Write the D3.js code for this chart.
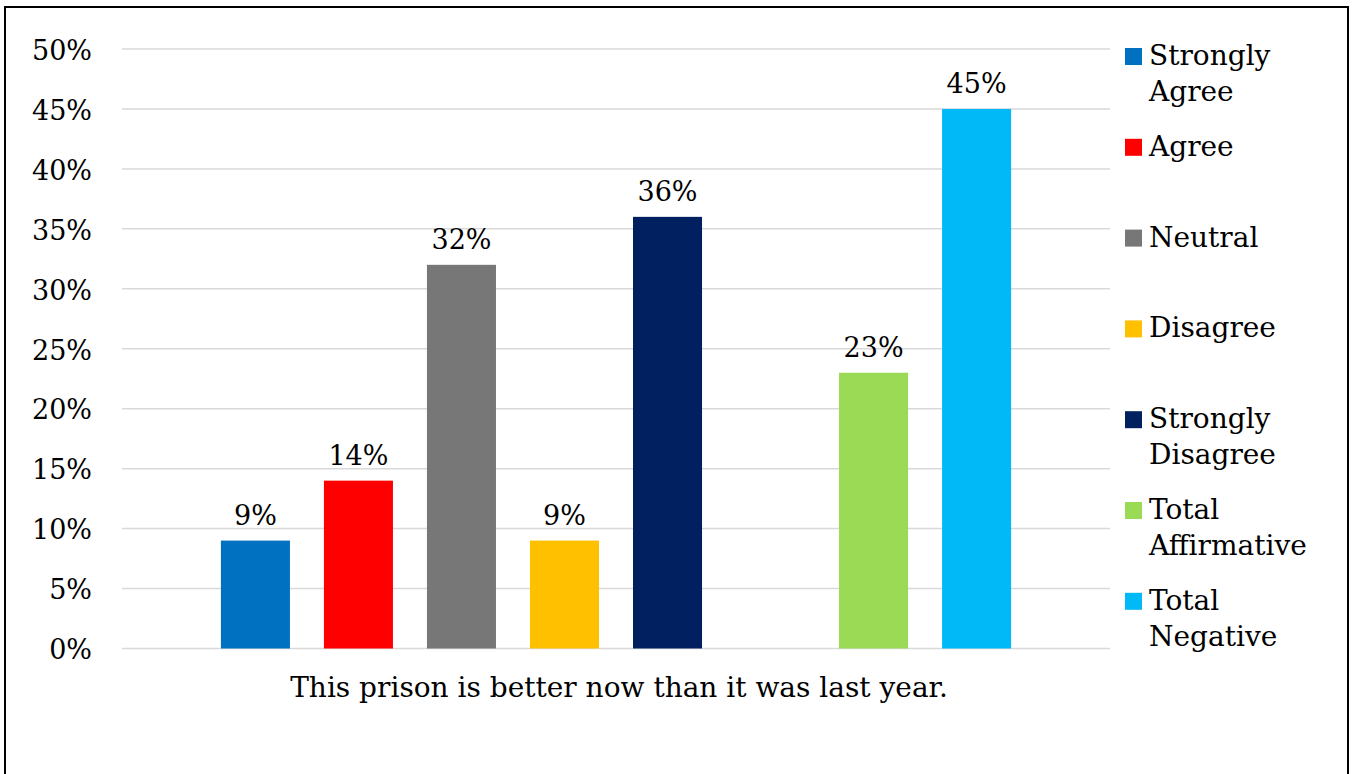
<!DOCTYPE html>
<html><head><meta charset="utf-8">
<script src="https://cdn.jsdelivr.net/npm/d3@7"></script>
<style>body{margin:0;background:#fff}svg{display:block}</style>
</head><body>
<script>
const categories = ["Strongly Agree","Agree","Neutral","Disagree","Strongly Disagree","","Total Affirmative","Total Negative"];
const values = [9,14,32,9,36,null,23,45];
const colors = ["#0070C0","#FF0000","#777777","#FFC000","#002060",null,"#9BDA55","#00B9F6"];
const legendLines = [["Strongly","Agree"],["Agree"],["Neutral"],["Disagree"],["Strongly","Disagree"],["Total","Affirmative"],["Total","Negative"]];
const yTicks = [0,5,10,15,20,25,30,35,40,45,50];
const axisTitle = "This prison is better now than it was last year.";

const W=1352,H=774;
const font = "Georgia, 'DejaVu Serif', serif";
const svg = d3.select("body").append("svg").attr("width",W).attr("height",H);
svg.append("rect").attr("x",5).attr("y",7).attr("width",1343).attr("height",790)
  .attr("fill","#fff").attr("stroke","#000").attr("stroke-width",2);

const x0=122,x1=1110;
const y = d3.scaleLinear().domain([0,50]).range([648.5,49]);
const x = d3.scaleBand().domain(categories.map((c,i)=>i)).range([x0,x1]).paddingInner(0.33).paddingOuter(0.96);

const g = svg.append("g");
g.selectAll("line.grid").data(yTicks).join("line")
  .attr("x1",x0).attr("x2",x1).attr("y1",d=>y(d)).attr("y2",d=>y(d))
  .attr("stroke","#d9d9d9").attr("stroke-width",1.5);

const yAxis = d3.axisLeft(y).tickValues(yTicks).tickFormat(d=>d+"%").tickSize(0).tickPadding(0);
const ya = svg.append("g").attr("transform","translate(92,0)").call(yAxis);
ya.select(".domain").remove();
ya.selectAll("text").attr("font-family",font).attr("font-size",27).attr("fill","#000").attr("dy","0.38em");

const data = categories.map((c,i)=>({i,c,v:values[i],col:colors[i]})).filter(d=>d.v!=null);
g.selectAll("rect.bar").data(data).join("rect")
  .attr("x",d=>x(d.i)).attr("width",x.bandwidth())
  .attr("y",d=>y(d.v)).attr("height",d=>y(0)-y(d.v)).attr("fill",d=>d.col);
g.selectAll("text.lbl").data(data).join("text")
  .attr("x",d=>x(d.i)+x.bandwidth()/2).attr("y",d=>y(d.v)-16)
  .attr("text-anchor","middle").attr("font-family",font).attr("font-size",27).attr("fill","#000")
  .text(d=>d.v+"%");

svg.append("text").attr("x",(x0+x1)/2+3).attr("y",697).attr("text-anchor","middle")
  .attr("font-family",font).attr("font-size",28).attr("fill","#000").text(axisTitle);

const leg = svg.append("g");
const legCols = colors.filter(c=>c);
legendLines.forEach((lines,k)=>{
  const top = 48 + k*90.8;
  leg.append("rect").attr("x",1125).attr("y",top).attr("width",17).attr("height",17).attr("fill",legCols[k]);
  const t = leg.append("text").attr("font-family",font).attr("font-size",28).attr("fill","#000");
  lines.forEach((s,j)=>t.append("tspan").attr("x",1149).attr("y",top+17+j*36).text(s));
});
</script>
</body></html>
